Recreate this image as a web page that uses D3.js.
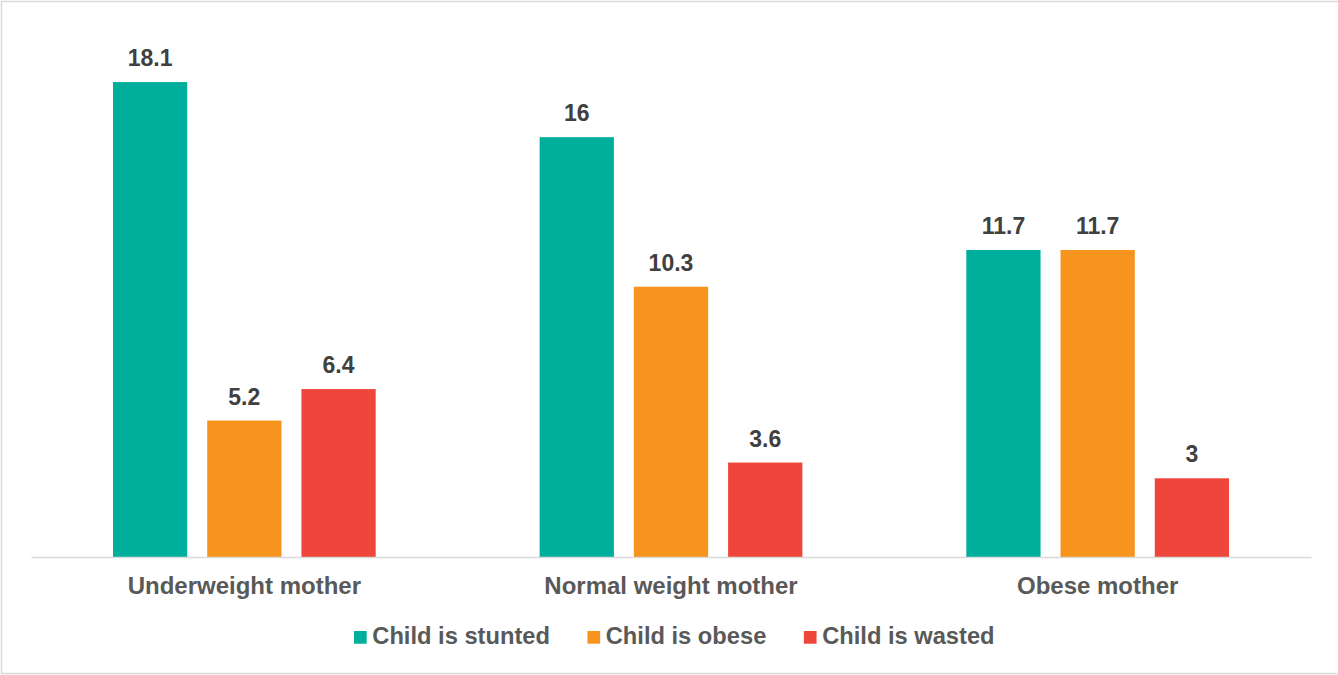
<!DOCTYPE html>
<html>
<head>
<meta charset="utf-8">
<script src="https://cdn.jsdelivr.net/npm/d3@7"></script>
<style>
  html, body { margin: 0; padding: 0; background: #fff; }
  svg { display: block; font-family: "Liberation Sans", Arial, sans-serif; }
</style>
</head>
<body>
<svg id="chart" width="1338" height="675"></svg>
<script>
const categories = ["Underweight mother", "Normal weight mother", "Obese mother"];
const seriesNames = ["Child is stunted", "Child is obese", "Child is wasted"];
const stunted = [18.1, 16, 11.7];
const obese = [5.2, 10.3, 11.7];
const wasted = [6.4, 3.6, 3];
const seriesColors = ["#00AF9B", "#F7941D", "#EF463C"];

const seriesValues = [stunted, obese, wasted];
const table = categories.map((c, i) => ({
  category: c,
  values: seriesNames.map((s, j) => ({ series: s, value: seriesValues[j][i], color: seriesColors[j] }))
}));

const svg = d3.select("#chart");
const W = 1338, H = 675;

// outer border
svg.append("rect")
  .attr("x", 1.5).attr("y", 1.5)
  .attr("width", W).attr("height", H - 3)
  .attr("fill", "#fff").attr("stroke", "#D9D9D9").attr("stroke-width", 1.5);

const plotLeft = 31, plotRight = 1311, plotTop = 32.2, plotBottom = 557;

const x0 = d3.scaleBand().domain(categories).range([plotLeft, plotRight]).paddingInner(0).paddingOuter(0);
const x1 = d3.scaleBand().domain(seriesNames).range([0, x0.bandwidth()]).paddingInner(0.212).paddingOuter(0.87);
const y = d3.scaleLinear().domain([0, 20]).range([plotBottom, plotTop]);

const groups = svg.append("g").selectAll("g")
  .data(table).enter().append("g")
  .attr("transform", d => `translate(${x0(d.category)},0)`);

groups.selectAll("rect")
  .data(d => d.values).enter().append("rect")
  .attr("x", d => x1(d.series))
  .attr("y", d => y(d.value))
  .attr("width", x1.bandwidth())
  .attr("height", d => y(0) - y(d.value))
  .attr("fill", d => d.color);

groups.selectAll("text.val")
  .data(d => d.values).enter().append("text")
  .attr("class", "val")
  .attr("x", d => x1(d.series) + x1.bandwidth() / 2)
  .attr("y", d => y(d.value) - 16)
  .attr("text-anchor", "middle")
  .attr("font-size", "23px")
  .attr("font-weight", "bold")
  .attr("fill", "#404040")
  .text(d => d.value);

// baseline axis
const xAxis = d3.axisBottom(x0).tickSize(0).tickPadding(0);
const axisG = svg.append("g").attr("transform", `translate(0,${plotBottom})`).call(xAxis);
axisG.select(".domain").attr("stroke", "#D9D9D9").attr("stroke-width", 1.5);
axisG.selectAll(".tick text")
  .attr("y", 37)
  .attr("dy", 0)
  .attr("font-size", "24px")
  .attr("font-weight", "bold")
  .attr("font-family", "Liberation Sans, Arial, sans-serif")
  .attr("fill", "#595959");

// legend
const legend = svg.append("g");
const legendY = 644.3;
let lx = 354;
seriesNames.forEach((s, i) => {
  legend.append("rect")
    .attr("x", lx).attr("y", legendY - 13.3)
    .attr("width", 12.7).attr("height", 12.7)
    .attr("fill", seriesColors[i]);
  const tx = lx + 18.3;
  const t = legend.append("text")
    .attr("x", tx).attr("y", legendY)
    .attr("font-size", "23.7px")
    .attr("font-weight", "bold")
    .attr("fill", "#595959")
    .text(s);
  const w = t.node().getComputedTextLength();
  lx = tx + w + 37.5;
});
</script>
</body>
</html>
